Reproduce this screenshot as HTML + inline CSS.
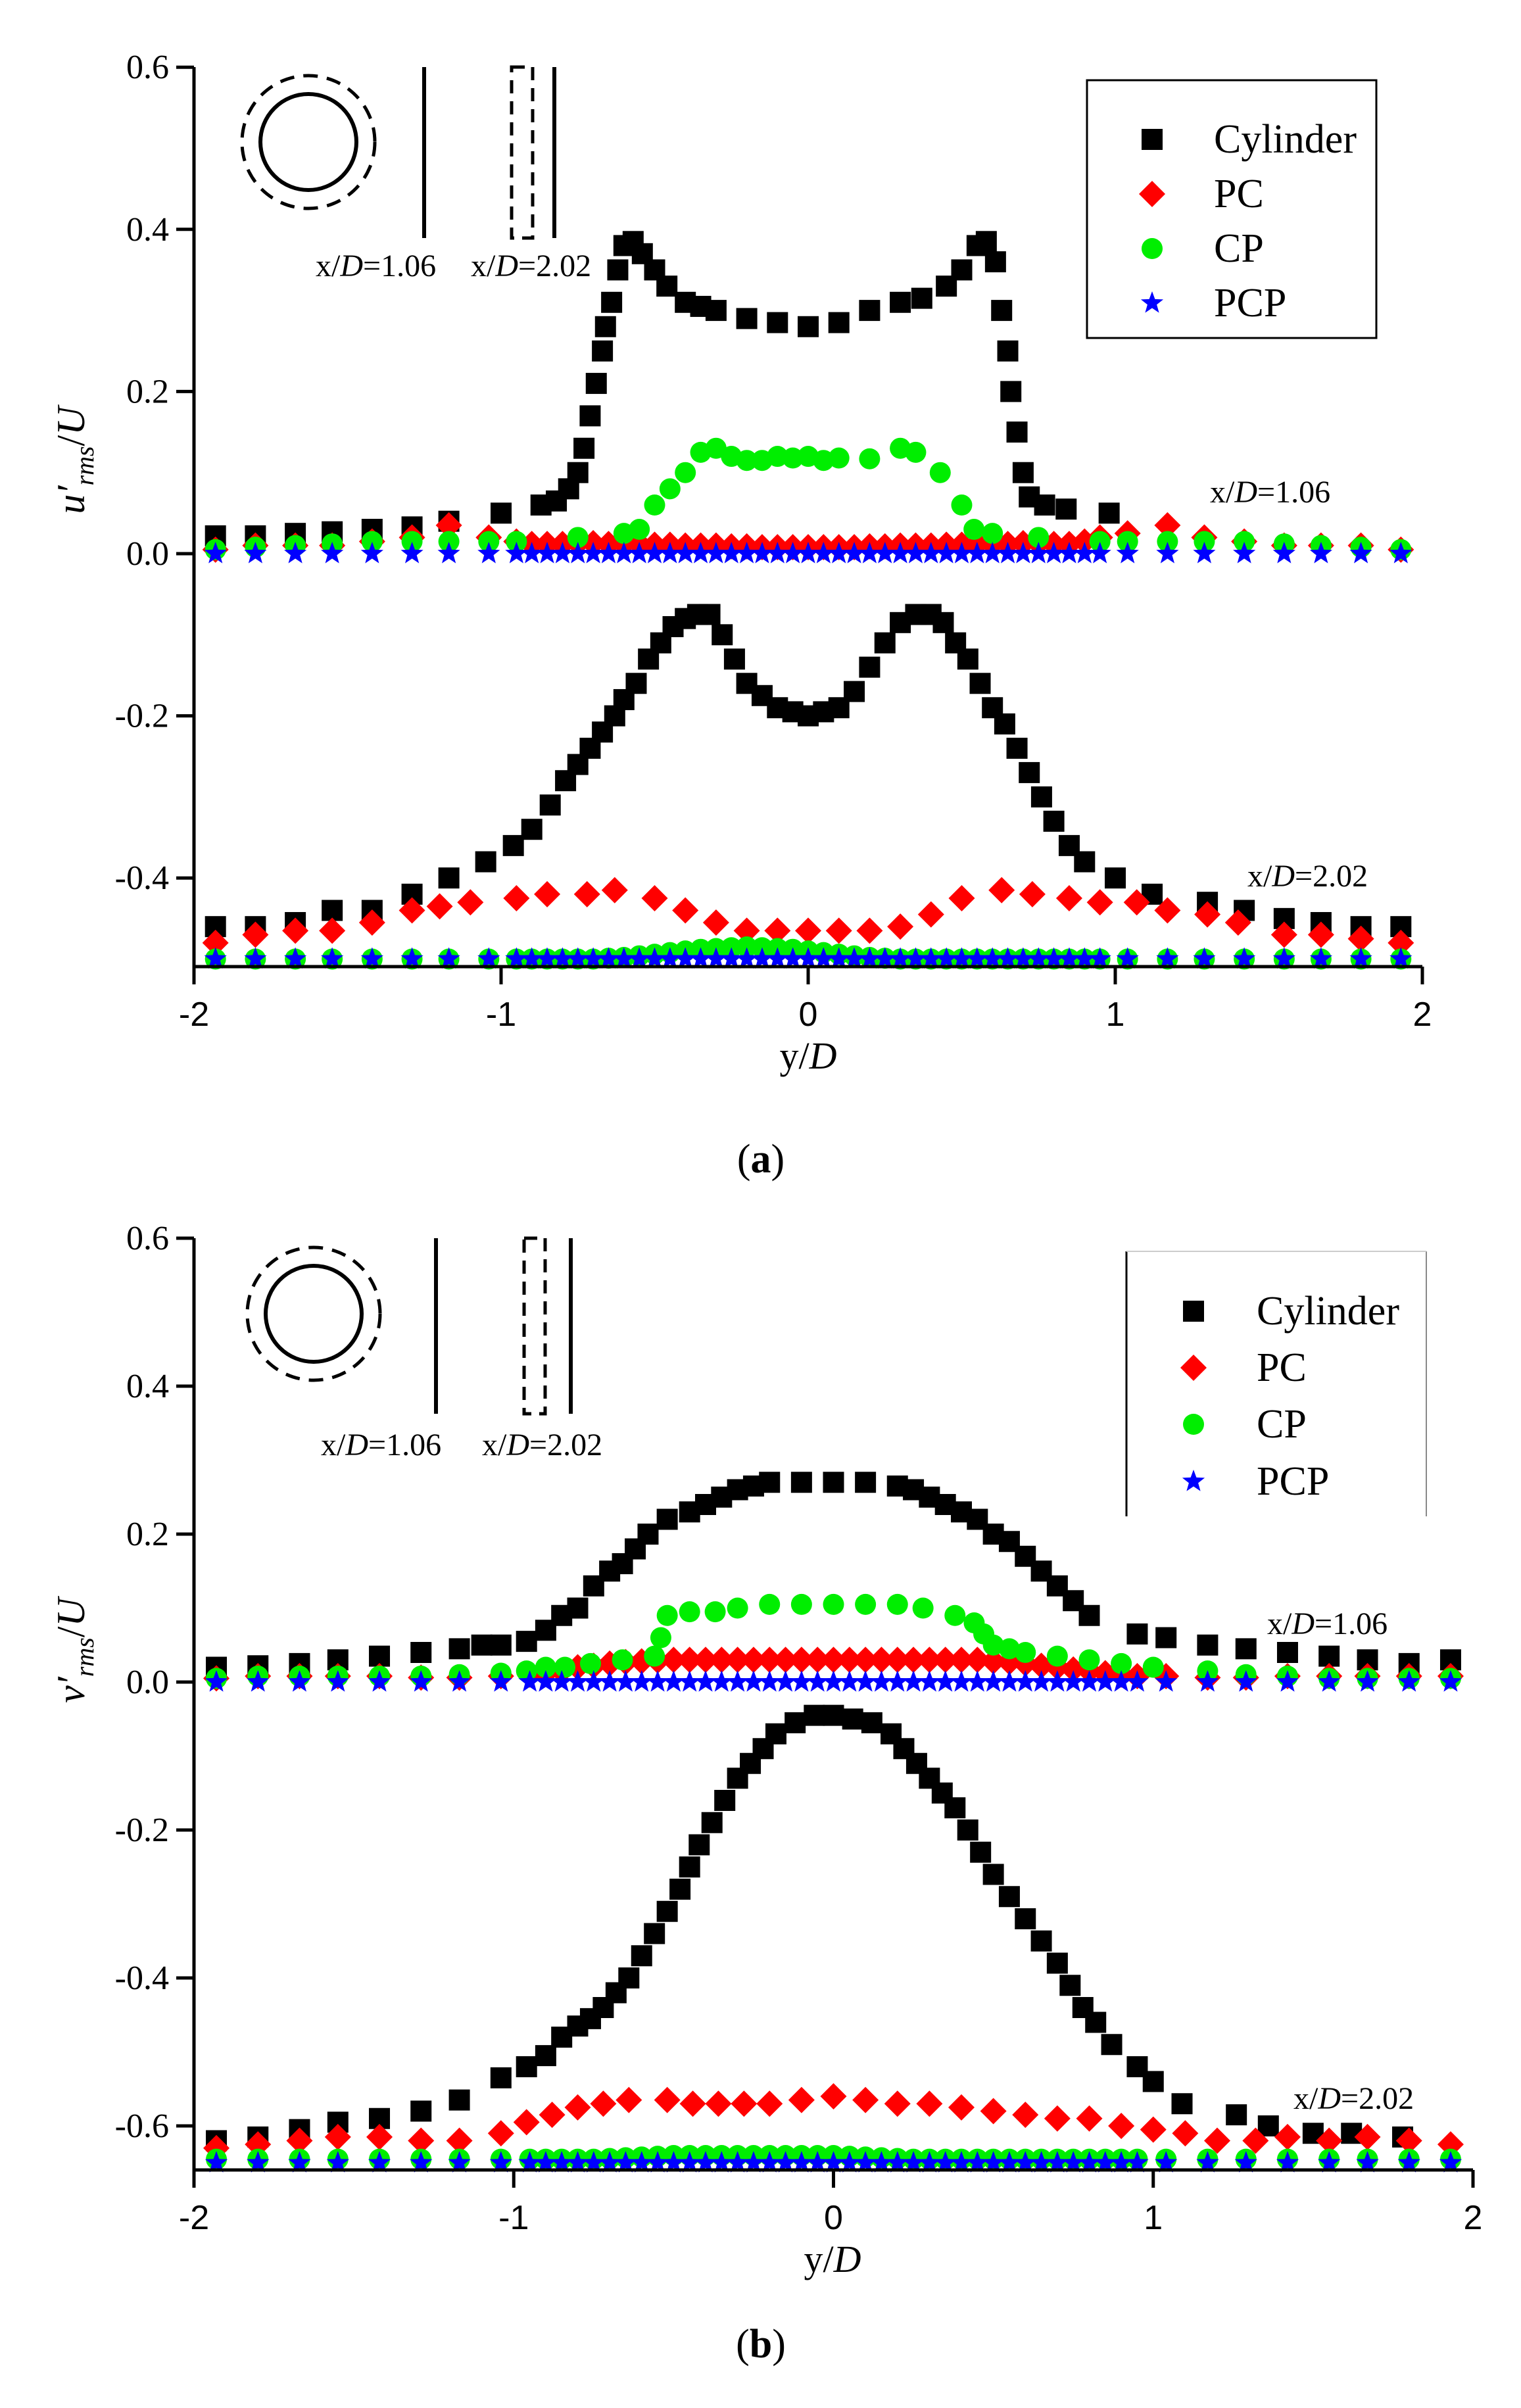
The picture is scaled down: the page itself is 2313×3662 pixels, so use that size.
<!DOCTYPE html>
<html><head><meta charset="utf-8"><style>
html,body{margin:0;padding:0;background:#fff}
svg{display:block}
.serif{font-family:"Liberation Serif",serif}
.sans{font-family:"Liberation Sans",sans-serif}
</style></head><body>
<svg id="fig" width="2313" height="3662" viewBox="0 0 2313 3662" xmlns="http://www.w3.org/2000/svg">
<g id="panelA"></g>
<g id="panelB"></g>
</svg>
<script>
const xEdgeL = [-1.93,-1.8,-1.67,-1.55,-1.42,-1.29,-1.17,-1.04];
const xEdgeR = [1.04,1.17,1.29,1.42,1.55,1.67,1.8,1.93];
const xMid = [-0.95,-0.9,-0.85,-0.8,-0.75,-0.7,-0.65,-0.6,-0.55,-0.5,-0.45,-0.4,-0.35,-0.3,-0.25,-0.2,-0.15,-0.1,-0.05,0,0.05,0.1,0.15,0.2,0.25,0.3,0.35,0.4,0.45,0.5,0.55,0.6,0.65,0.7,0.75,0.8,0.85,0.9,0.95];
const xFull = xEdgeL.concat(xMid, xEdgeR);

const xTicks = [-2,-1,0,1,2];
const xTickLabels = ["-2","-1","0","1","2"];
const yTicksA = [0.6,0.4,0.2,0,-0.2,-0.4];
const yTickLabelsA = ["0.6","0.4","0.2","0.0","-0.2","-0.4"];
const yTicksB = [0.6,0.4,0.2,0,-0.2,-0.4,-0.6];
const yTickLabelsB = ["0.6","0.4","0.2","0.0","-0.2","-0.4","-0.6"];

const aCylTopX = [-1.93,-1.8,-1.67,-1.55,-1.42,-1.29,-1.17,-1.0,-0.87,-0.82,-0.78,-0.75,-0.73,-0.71,-0.69,-0.67,-0.66,-0.64,-0.62,-0.6,-0.57,-0.54,-0.5,-0.46,-0.4,-0.35,-0.3,-0.2,-0.1,0,0.1,0.2,0.3,0.37,0.45,0.5,0.55,0.58,0.61,0.63,0.65,0.66,0.68,0.7,0.72,0.77,0.84,0.98];
const aCylTopV = [0.022,0.022,0.025,0.027,0.03,0.033,0.04,0.05,0.06,0.065,0.08,0.1,0.13,0.17,0.21,0.25,0.28,0.31,0.35,0.38,0.385,0.37,0.35,0.33,0.31,0.305,0.3,0.29,0.285,0.28,0.285,0.3,0.31,0.315,0.33,0.35,0.38,0.385,0.36,0.3,0.25,0.2,0.15,0.1,0.07,0.06,0.055,0.05];
const aCylBotX = [-1.93,-1.8,-1.67,-1.55,-1.42,-1.29,-1.17,-1.05,-0.96,-0.9,-0.84,-0.79,-0.75,-0.71,-0.67,-0.63,-0.6,-0.56,-0.52,-0.48,-0.44,-0.4,-0.36,-0.32,-0.28,-0.24,-0.2,-0.15,-0.1,-0.05,0,0.05,0.1,0.15,0.2,0.25,0.3,0.35,0.4,0.44,0.48,0.52,0.56,0.6,0.64,0.68,0.72,0.76,0.8,0.85,0.9,1.0,1.12,1.3,1.42,1.55,1.67,1.8,1.93];
const aCylBotV = [-0.46,-0.46,-0.455,-0.44,-0.44,-0.42,-0.4,-0.38,-0.36,-0.34,-0.31,-0.28,-0.26,-0.24,-0.22,-0.2,-0.18,-0.16,-0.13,-0.11,-0.09,-0.08,-0.075,-0.075,-0.1,-0.13,-0.16,-0.175,-0.19,-0.195,-0.2,-0.195,-0.19,-0.17,-0.14,-0.11,-0.085,-0.075,-0.075,-0.085,-0.11,-0.13,-0.16,-0.19,-0.21,-0.24,-0.27,-0.3,-0.33,-0.36,-0.38,-0.4,-0.42,-0.43,-0.44,-0.45,-0.455,-0.46,-0.46];
const aPCTopV = [0.005,0.01,0.01,0.01,0.015,0.02,0.035,0.02,
 0.015,0.012,0.012,0.012,0.013,0.013,0.012,0.012,0.012,0.011,0.011,0.01,0.01,0.01,0.009,0.009,0.008,0.008,0.008,0.008,0.008,0.008,0.008,0.009,0.009,0.01,0.01,0.01,0.011,0.011,0.012,0.012,0.012,0.013,0.013,0.012,0.012,0.015,0.02,
 0.025,0.035,0.02,0.015,0.01,0.01,0.01,0.005];
const aPCBotX = [-1.93,-1.8,-1.67,-1.55,-1.42,-1.29,-1.2,-1.1,-0.95,-0.85,-0.72,-0.63,-0.5,-0.4,-0.3,-0.2,-0.1,0,0.1,0.2,0.3,0.4,0.5,0.63,0.73,0.85,0.95,1.07,1.17,1.3,1.4,1.55,1.67,1.8,1.93];
const aPCBotV = [-0.48,-0.47,-0.465,-0.465,-0.455,-0.44,-0.435,-0.43,-0.425,-0.42,-0.42,-0.415,-0.425,-0.44,-0.455,-0.465,-0.465,-0.465,-0.465,-0.465,-0.46,-0.445,-0.425,-0.415,-0.42,-0.425,-0.43,-0.43,-0.44,-0.445,-0.455,-0.47,-0.47,-0.475,-0.48];
const aCPTopX = [-1.93,-1.8,-1.67,-1.55,-1.42,-1.29,-1.17,-1.04,-0.95,-0.75,-0.6,-0.55,-0.5,-0.45,-0.4,-0.35,-0.3,-0.25,-0.2,-0.15,-0.1,-0.05,0,0.05,0.1,0.2,0.3,0.35,0.43,0.5,0.54,0.6,0.75,0.95,1.04,1.17,1.29,1.42,1.55,1.67,1.8,1.93];
const aCPTopV = [0.005,0.008,0.01,0.012,0.015,0.015,0.015,0.015,0.015,0.02,0.025,0.03,0.06,0.08,0.1,0.125,0.13,0.12,0.115,0.115,0.12,0.118,0.12,0.115,0.118,0.117,0.13,0.125,0.1,0.06,0.03,0.025,0.02,0.015,0.015,0.015,0.015,0.015,0.012,0.01,0.008,0.005];
const aCPBotV = [-0.5,-0.5,-0.5,-0.5,-0.5,-0.5,-0.5,-0.5,
 -0.5,-0.5,-0.5,-0.5,-0.5,-0.5,-0.499,-0.498,-0.496,-0.494,-0.492,-0.49,-0.488,-0.487,-0.486,-0.485,-0.486,-0.487,-0.488,-0.49,-0.492,-0.494,-0.496,-0.498,-0.499,-0.5,-0.5,-0.5,-0.5,-0.5,-0.5,-0.5,-0.5,-0.5,-0.5,-0.5,-0.5,-0.5,-0.5,
 -0.5,-0.5,-0.5,-0.5,-0.5,-0.5,-0.5,-0.5];
const aPCPTopV = [0,0,0,0,0,0,0,0, 0,0,0,0,0,0,0,0,0,0,0,0,0,0,0,0,0,0,0,0,0,0,0,0,0,0,0,0,0,0,0,0,0,0,0,0,0,0,0, 0,0,0,0,0,0,0,0];
const aPCPBotV = [-0.5,-0.5,-0.5,-0.5,-0.5,-0.5,-0.5,-0.5, -0.5,-0.5,-0.5,-0.5,-0.5,-0.5,-0.5,-0.5,-0.5,-0.5,-0.5,-0.5,-0.5,-0.5,-0.5,-0.5,-0.5,-0.5,-0.5,-0.5,-0.5,-0.5,-0.5,-0.5,-0.5,-0.5,-0.5,-0.5,-0.5,-0.5,-0.5,-0.5,-0.5,-0.5,-0.5,-0.5,-0.5,-0.5,-0.5, -0.5,-0.5,-0.5,-0.5,-0.5,-0.5,-0.5,-0.5];

const bCylTopX = [-1.93,-1.8,-1.67,-1.55,-1.42,-1.29,-1.17,-1.1,-1.04,-0.96,-0.9,-0.85,-0.8,-0.75,-0.7,-0.66,-0.62,-0.58,-0.52,-0.45,-0.4,-0.35,-0.3,-0.25,-0.2,-0.1,0,0.1,0.2,0.25,0.3,0.35,0.4,0.45,0.5,0.55,0.6,0.65,0.7,0.75,0.8,0.95,1.04,1.17,1.29,1.42,1.55,1.67,1.8,1.93];
const bCylTopV = [0.02,0.022,0.025,0.03,0.035,0.04,0.045,0.05,0.05,0.055,0.07,0.09,0.1,0.13,0.15,0.16,0.18,0.2,0.22,0.23,0.24,0.25,0.26,0.265,0.27,0.27,0.27,0.27,0.265,0.26,0.25,0.24,0.23,0.22,0.2,0.19,0.17,0.15,0.13,0.11,0.09,0.065,0.06,0.05,0.045,0.04,0.035,0.03,0.025,0.03];
const bCylBotX = [-1.93,-1.8,-1.67,-1.55,-1.42,-1.29,-1.17,-1.04,-0.96,-0.9,-0.85,-0.8,-0.76,-0.72,-0.68,-0.64,-0.6,-0.56,-0.52,-0.48,-0.45,-0.42,-0.38,-0.34,-0.3,-0.26,-0.22,-0.18,-0.12,-0.06,0,0.06,0.12,0.18,0.22,0.26,0.3,0.34,0.38,0.42,0.46,0.5,0.55,0.6,0.65,0.7,0.74,0.78,0.82,0.87,0.95,1.0,1.09,1.26,1.36,1.5,1.62,1.78];
const bCylBotV = [-0.62,-0.615,-0.605,-0.595,-0.59,-0.58,-0.565,-0.535,-0.52,-0.505,-0.48,-0.465,-0.455,-0.44,-0.42,-0.4,-0.37,-0.34,-0.31,-0.28,-0.25,-0.22,-0.19,-0.16,-0.13,-0.11,-0.09,-0.07,-0.055,-0.045,-0.045,-0.05,-0.055,-0.07,-0.09,-0.11,-0.13,-0.15,-0.17,-0.2,-0.23,-0.26,-0.29,-0.32,-0.35,-0.38,-0.41,-0.44,-0.46,-0.49,-0.52,-0.54,-0.57,-0.585,-0.6,-0.61,-0.61,-0.615];
const bPCTopV = [0.005,0.008,0.008,0.008,0.008,0.006,0.006,0.008,
 0.01,0.012,0.015,0.02,0.022,0.025,0.027,0.028,0.029,0.03,0.03,0.03,0.03,0.03,0.03,0.03,0.03,0.03,0.03,0.03,0.03,0.03,0.03,0.03,0.03,0.03,0.03,0.03,0.03,0.028,0.027,0.025,0.022,0.02,0.017,0.015,0.012,0.01,0.008,
 0.008,0.006,0.006,0.008,0.008,0.008,0.008,0.008];
const bPCBotX = [-1.93,-1.8,-1.67,-1.55,-1.42,-1.29,-1.17,-1.04,-0.96,-0.88,-0.8,-0.72,-0.64,-0.52,-0.44,-0.36,-0.28,-0.2,-0.1,0,0.1,0.2,0.3,0.4,0.5,0.6,0.7,0.8,0.9,1.0,1.1,1.2,1.32,1.42,1.55,1.67,1.8,1.93];
const bPCBotV = [-0.63,-0.625,-0.62,-0.615,-0.615,-0.62,-0.62,-0.61,-0.595,-0.585,-0.575,-0.57,-0.565,-0.565,-0.57,-0.57,-0.57,-0.57,-0.565,-0.56,-0.565,-0.57,-0.57,-0.575,-0.58,-0.585,-0.59,-0.59,-0.6,-0.605,-0.61,-0.62,-0.62,-0.615,-0.62,-0.615,-0.62,-0.625];
const bCPTopX = [-1.93,-1.8,-1.67,-1.55,-1.42,-1.29,-1.17,-1.04,-0.96,-0.9,-0.84,-0.76,-0.66,-0.56,-0.54,-0.52,-0.45,-0.37,-0.3,-0.2,-0.1,0,0.1,0.2,0.28,0.38,0.44,0.47,0.5,0.55,0.6,0.7,0.8,0.9,1.0,1.17,1.29,1.42,1.55,1.67,1.8,1.93];
const bCPTopV = [0.005,0.008,0.008,0.008,0.008,0.008,0.01,0.012,0.015,0.02,0.02,0.025,0.03,0.035,0.06,0.09,0.095,0.095,0.1,0.105,0.105,0.105,0.105,0.105,0.1,0.09,0.08,0.065,0.05,0.045,0.04,0.035,0.03,0.025,0.02,0.015,0.01,0.008,0.005,0.005,0.005,0.005];
const bCPBotV = [-0.645,-0.645,-0.645,-0.645,-0.645,-0.645,-0.645,-0.645, -0.645,-0.645,-0.645,-0.645,-0.645,-0.644,-0.643,-0.642,-0.641,-0.64,-0.64,-0.64,-0.64,-0.64,-0.64,-0.64,-0.64,-0.64,-0.64,-0.64,-0.641,-0.642,-0.643,-0.644,-0.645,-0.645,-0.645,-0.645,-0.645,-0.645,-0.645,-0.645,-0.645,-0.645,-0.645,-0.645,-0.645,-0.645,-0.645, -0.645,-0.645,-0.645,-0.645,-0.645,-0.645,-0.645,-0.645];
const bPCPTopV = aPCPTopV.slice();
const bPCPBotV = [-0.65,-0.65,-0.65,-0.65,-0.65,-0.65,-0.65,-0.65, -0.65,-0.65,-0.65,-0.65,-0.65,-0.65,-0.65,-0.65,-0.65,-0.65,-0.65,-0.65,-0.65,-0.65,-0.65,-0.65,-0.65,-0.65,-0.65,-0.65,-0.65,-0.65,-0.65,-0.65,-0.65,-0.65,-0.65,-0.65,-0.65,-0.65,-0.65,-0.65,-0.65,-0.65,-0.65,-0.65,-0.65,-0.65,-0.65, -0.65,-0.65,-0.65,-0.65,-0.65,-0.65,-0.65,-0.65];

const NS = "http://www.w3.org/2000/svg";
function mk(tag, attrs, parent){const e=document.createElementNS(NS,tag);for(const k in attrs)e.setAttribute(k,attrs[k]);parent.appendChild(e);return e;}
const COL = {Cylinder:"#000",PC:"#ff0000",CP:"#00ee00",PCP:"#0000ff"};

function marker(g, kind, cx, cy){
  let e;
  if(kind==="Cylinder"){e=mk("rect",{x:cx-16,y:cy-16,width:32,height:32,fill:COL[kind]},g);}
  else if(kind==="PC"){e=mk("polygon",{points:`${cx},${cy-20} ${cx+20},${cy} ${cx},${cy+20} ${cx-20},${cy}`,fill:COL[kind]},g);}
  else if(kind==="CP"){e=mk("circle",{cx:cx,cy:cy,r:16,fill:COL[kind]},g);}
  else {let p=[];for(let i=0;i<10;i++){const r=i%2?7.5:18;const a=-Math.PI/2+i*Math.PI/5;p.push((cx+r*Math.cos(a)).toFixed(1)+","+(cy+r*Math.sin(a)).toFixed(1));}
    e=mk("polygon",{points:p.join(" "),fill:COL[kind]},g);}
  return e;
}

function drawPanel(g, cfg){
  const sx = v => cfg.x0 + (v - (-2)) / 4 * (cfg.x1 - cfg.x0);
  const sy = v => cfg.yZero - v * cfg.unit;
  const yBot = cfg.yBottom;
  cfg.series.forEach(s=>{
    const sg = mk("g",{},g);
    
    
    s.x.forEach((xv,i)=>{
      const m = marker(sg, s.kind, sx(xv), sy(s.v[i]));
      
      
    });
  });
  const ax = mk("g",{stroke:"#000","stroke-width":5,fill:"none"},g);
  
  
  mk("line",{x1:cfg.x0,y1:cfg.yTop,x2:cfg.x0,y2:yBot+27},ax);
  mk("line",{x1:cfg.x0,y1:yBot,x2:cfg.x1,y2:yBot},ax);
  xTicks.forEach((t,i)=>{
    mk("line",{x1:sx(t),y1:yBot,x2:sx(t),y2:yBot+27},ax);
    const tx = mk("text",{x:sx(t),y:yBot+90,"text-anchor":"middle","font-size":52,class:"sans",fill:"#000",stroke:"none"},g);
    tx.textContent = xTickLabels[i];
    
    
  });
  cfg.yTicks.forEach((t,i)=>{
    mk("line",{x1:cfg.x0-27,y1:sy(t),x2:cfg.x0,y2:sy(t)},ax);
    const tx = mk("text",{x:cfg.x0-38,y:sy(t)+17,"text-anchor":"end","font-size":52,class:"serif",fill:"#000",stroke:"none"},g);
    tx.textContent = cfg.yTickLabels[i];
    
    
  });
}

function decorate(g, o){
  let t = mk("text",{x:o.xTitleX,y:o.xTitleY,"text-anchor":"middle","font-size":58,class:"serif"},g);
  t.innerHTML = 'y/<tspan font-style="italic">D</tspan>';
   
  t = mk("text",{x:0,y:0,"text-anchor":"middle","font-size":60,class:"serif",transform:`translate(${o.yTitleX},${o.yTitleY}) rotate(-90)`},g);
  t.innerHTML = '<tspan font-style="italic">'+o.sym+'′</tspan><tspan font-style="italic" font-size="40" dy="14">rms</tspan><tspan dy="-14">/</tspan><tspan font-style="italic">U</tspan>';
   
  t = mk("text",{x:1157,y:o.capY,"text-anchor":"middle","font-size":62,class:"serif"},g);
  t.innerHTML = '(<tspan font-weight="bold">'+o.cap+'</tspan>)';
   
  const ins = mk("g",{stroke:"#000","stroke-width":6,fill:"none"},g);
   
  mk("circle",{cx:o.cx,cy:o.cy,r:73},ins);
  mk("circle",{cx:o.cx,cy:o.cy,r:101,"stroke-dasharray":"22 14","stroke-width":5},ins);
  mk("line",{x1:o.l1,y1:o.lt,x2:o.l1,y2:o.lb},ins);
  mk("rect",{x:o.rx,y:o.lt,width:32,height:o.lb-o.lt,"stroke-dasharray":"20 12","stroke-width":5},ins);
  mk("line",{x1:o.l2,y1:o.lt,x2:o.l2,y2:o.lb},ins);
  [[o.t1x,'1.06'],[o.t2x,'2.02']].forEach(p=>{
    const a = mk("text",{x:p[0],y:o.ty,"font-size":48,class:"serif"},g);
    a.innerHTML = 'x/<tspan font-style="italic">D</tspan>='+p[1];
     
  });
  [[o.a1x,o.a1y,'1.06'],[o.a2x,o.a2y,'2.02']].forEach(p=>{
    const a = mk("text",{x:p[0],y:p[1],"font-size":48,class:"serif"},g);
    a.innerHTML = 'x/<tspan font-style="italic">D</tspan>='+p[2];
     
  });
  const lg = mk("g",{},g);
   
  if(o.box) mk("rect",{x:o.lx0,y:o.ly0,width:o.lx1-o.lx0,height:o.ly1-o.ly0,fill:"none",stroke:"#000","stroke-width":3},lg);
  else { mk("line",{x1:o.lx0,y1:o.ly0,x2:o.lx0,y2:o.ly1,stroke:"#000","stroke-width":3},lg);
         mk("line",{x1:o.lx1,y1:o.ly0,x2:o.lx1,y2:o.ly1,stroke:"#888","stroke-width":2},lg);
         mk("line",{x1:o.lx0,y1:o.ly0,x2:o.lx1,y2:o.ly0,stroke:"#ccc","stroke-width":2},lg);}
  ["Cylinder","PC","CP","PCP"].forEach((k,i)=>{
    const e = mk("g",{},lg);
     
    marker(e,k,o.mx,o.rows[i]);
    const tx = mk("text",{x:o.tx,y:o.rows[i]+20,"font-size":62,class:"serif"},e);
    tx.textContent = k;
  });
}

const A = document.getElementById('panelA');
drawPanel(A,{x0:295,x1:2163,yZero:842,unit:1233,yTop:102,yBottom:1470,yTicks:yTicksA,yTickLabels:yTickLabelsA,
 series:[
  {kind:"Cylinder",station:"1.06",x:aCylTopX,v:aCylTopV},
  {kind:"Cylinder",station:"2.02",x:aCylBotX,v:aCylBotV},
  {kind:"PC",station:"1.06",x:xFull,v:aPCTopV},
  {kind:"PC",station:"2.02",x:aPCBotX,v:aPCBotV},
  {kind:"CP",station:"1.06",x:aCPTopX,v:aCPTopV},
  {kind:"CP",station:"2.02",x:xFull,v:aCPBotV},
  {kind:"PCP",station:"1.06",x:xFull,v:aPCPTopV},
  {kind:"PCP",station:"2.02",x:xFull,v:aPCPBotV}]});
decorate(A,{xTitleX:1229,xTitleY:1625,yTitleX:128,yTitleY:700,sym:"u",cap:"a",capY:1783,
 cx:469,cy:216,l1:645,l2:843,rx:778,lt:102,lb:362,t1x:480,t2x:716,ty:420,
 a1x:1840,a1y:764,a2x:1897,a2y:1348,box:true,lx0:1653,ly0:122,lx1:2093,ly1:514,mx:1752,tx:1846,rows:[212,295,378,461]});

const B = document.getElementById('panelB');
drawPanel(B,{x0:295,x1:2240,yZero:2558,unit:1125,yTop:1883,yBottom:3300,yTicks:yTicksB,yTickLabels:yTickLabelsB,
 series:[
  {kind:"Cylinder",station:"1.06",x:bCylTopX,v:bCylTopV},
  {kind:"Cylinder",station:"2.02",x:bCylBotX,v:bCylBotV},
  {kind:"PC",station:"1.06",x:xFull,v:bPCTopV},
  {kind:"PC",station:"2.02",x:bPCBotX,v:bPCBotV},
  {kind:"CP",station:"1.06",x:bCPTopX,v:bCPTopV},
  {kind:"CP",station:"2.02",x:xFull,v:bCPBotV},
  {kind:"PCP",station:"1.06",x:xFull,v:bPCPTopV},
  {kind:"PCP",station:"2.02",x:xFull,v:bPCPBotV}]});
decorate(B,{xTitleX:1266,xTitleY:3455,yTitleX:128,yTitleY:2510,sym:"v",cap:"b",capY:3585,
 cx:477,cy:1998,l1:663,l2:868,rx:797,lt:1883,lb:2150,t1x:488,t2x:733,ty:2213,
 a1x:1927,a1y:2485,a2x:1967,a2y:3207,box:false,lx0:1713,ly0:1903,lx1:2169,ly1:2306,mx:1815,tx:1911,rows:[1994,2080,2166,2253]});
</script>
</body></html>
